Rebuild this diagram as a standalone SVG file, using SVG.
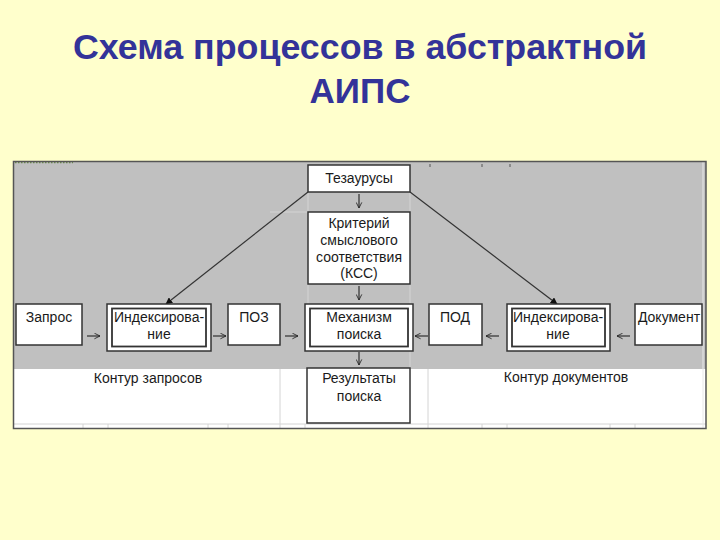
<svg xmlns="http://www.w3.org/2000/svg" width="720" height="540" viewBox="0 0 720 540">
<defs>
<marker id="fill" viewBox="0 0 10 10" refX="9" refY="5" markerWidth="7" markerHeight="7" orient="auto" markerUnits="userSpaceOnUse"><path d="M0,0 L10,5 L0,10 z" fill="#111"/></marker>
<marker id="open" viewBox="0 0 10 10" refX="9" refY="5" markerWidth="7" markerHeight="7" orient="auto" markerUnits="userSpaceOnUse"><path d="M1,1 L9,5 L1,9" fill="none" stroke="#222" stroke-width="1.2"/></marker>
<style>
.t{font-family:"Liberation Sans",Arial,sans-serif;font-size:14px;fill:#1a1a1a;text-anchor:middle}
.title{font-family:"Liberation Sans",Arial,sans-serif;font-size:35px;font-weight:bold;fill:#333399;text-anchor:middle}
.box{fill:#fff;stroke:#333;stroke-width:1.5}
.inner{fill:none;stroke:#333;stroke-width:1.8}
.grid{stroke:#d4d4d4;stroke-width:1;fill:none}
.sm{stroke:#222;stroke-width:1.1;fill:none;marker-end:url(#open)}
.diag{stroke:#333;stroke-width:1.2;fill:none;marker-end:url(#fill)}
</style>
</defs>
<rect x="0" y="0" width="720" height="540" fill="#FFFFCC"/>
<text class="title" x="360" y="59" textLength="574" lengthAdjust="spacingAndGlyphs">Схема процессов в абстрактной</text>
<text class="title" x="360" y="103">АИПС</text>

<g id="frame">
<rect x="14" y="162" width="692" height="207" fill="#C0C0C0"/>
<rect x="14" y="369" width="692" height="59" fill="#FFFFFF"/>
<path class="grid" d="M410 192V369 M308 192V304 M270 212H308 M14 424H706 M280 369V428 M428 369V428 M83 424V428 M108 424V428 M208 424V428 M228 424V428 M305 424V428 M482 424V428 M507 424V428 M610 424V428 M635 424V428"/>
<path d="M430 164v3 M482 164v3 M510 164v3" stroke="#555" stroke-width="1"/>
<path d="M15 162.5H73" stroke="#6a8a4a" stroke-width="1.5" stroke-dasharray="1.5,1.5"/>
<line x1="703" y1="162" x2="703" y2="428" stroke="#e8e8e8" stroke-width="1"/>
<rect x="13.5" y="161.5" width="692.5" height="267" fill="none" stroke="#555" stroke-width="1.5"/>
<text class="t" x="148" y="383">Контур запросов</text>
<text class="t" x="566" y="382">Контур документов</text>
</g>

<g id="connectors">
<line class="diag" x1="308" y1="192" x2="166" y2="304"/>
<line class="diag" x1="410" y1="192" x2="557" y2="304"/>
<line class="sm" x1="359" y1="194" x2="359" y2="208"/>
<line class="sm" x1="359" y1="286" x2="359" y2="300"/>
<line class="sm" x1="359" y1="352" x2="359" y2="365"/>
<line class="sm" x1="87" y1="336" x2="100" y2="336"/>
<line class="sm" x1="213" y1="336" x2="226" y2="336"/>
<line class="sm" x1="285" y1="336" x2="298" y2="336"/>
<line class="sm" x1="428" y1="336" x2="415" y2="336"/>
<line class="sm" x1="499" y1="336" x2="486" y2="336"/>
<line class="sm" x1="630" y1="336" x2="617" y2="336"/>
</g>

<g id="n-tezaurus">
<rect class="box" x="308" y="165" width="102" height="27"/>
<text class="t" x="359" y="183">Тезаурусы</text>
</g>
<g id="n-kss">
<rect class="box" x="308" y="212" width="102" height="72"/>
<text class="t" x="359" y="228">Критерий</text>
<text class="t" x="359" y="245">смыслового</text>
<text class="t" x="359" y="262">соответствия</text>
<text class="t" x="359" y="278">(КСС)</text>
</g>
<g id="n-mech">
<rect class="box" x="305" y="304" width="108" height="47"/>
<rect class="inner" x="310" y="308.5" width="98" height="38"/>
<text class="t" x="359" y="322">Механизм</text>
<text class="t" x="359" y="339">поиска</text>
</g>
<g id="n-result">
<rect class="box" x="307" y="368" width="103" height="55"/>
<text class="t" x="359" y="383">Результаты</text>
<text class="t" x="359" y="401">поиска</text>
</g>
<g id="n-zapros">
<rect class="box" x="16" y="304" width="66" height="41"/>
<text class="t" x="49" y="322">Запрос</text>
</g>
<g id="n-index-left">
<rect class="box" x="107" y="304" width="104" height="47"/>
<rect class="inner" x="112" y="308.5" width="94" height="38"/>
<text class="t" x="159" y="322">Индексирова-</text>
<text class="t" x="159" y="339">ние</text>
</g>
<g id="n-poz">
<rect class="box" x="228" y="304" width="52" height="41"/>
<text class="t" x="254" y="322">ПОЗ</text>
</g>
<g id="n-pod">
<rect class="box" x="429" y="304" width="53" height="41"/>
<text class="t" x="455" y="322">ПОД</text>
</g>
<g id="n-index-right">
<rect class="box" x="507" y="304" width="103" height="47"/>
<rect class="inner" x="512" y="308.5" width="93" height="38"/>
<text class="t" x="558" y="322">Индексирова-</text>
<text class="t" x="558" y="339">ние</text>
</g>
<g id="n-document">
<rect class="box" x="635" y="304" width="67" height="41"/>
<text class="t" x="669" y="322">Документ</text>
</g>
</svg>
